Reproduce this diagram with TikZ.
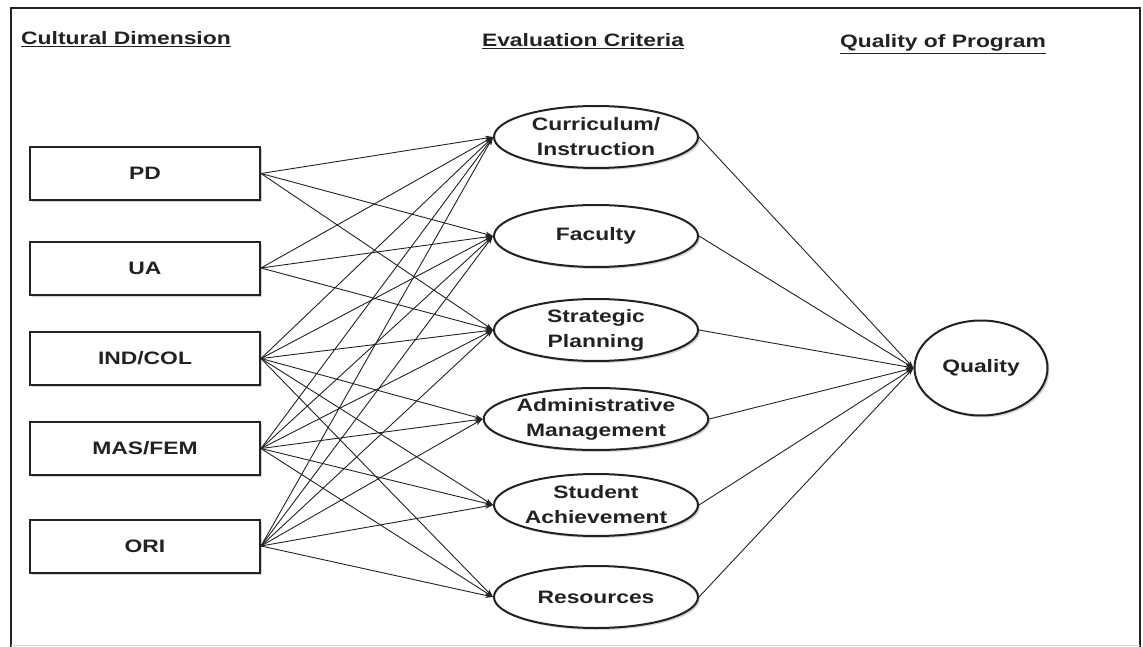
\documentclass[tikz,border=0pt]{standalone}
\usepackage{fontspec}
\setmainfont{Liberation Sans}[FakeStretch=1.27]
\usetikzlibrary{arrows.meta,shapes.geometric,shadows}
\definecolor{ink}{HTML}{222222}
\begin{document}
\begin{tikzpicture}[x=1pt,y=-1pt,
  every node/.style={font=\fontsize{18}{25}\selectfont\bfseries, text=ink},
  dimbox/.style={draw=ink, line width=2pt, fill=white, minimum width=230pt, minimum height=53pt, inner sep=0pt,
    drop shadow={shadow xshift=2pt, shadow yshift=-2pt, opacity=0.35, fill=gray}},
  critell/.style={ellipse, draw=ink, line width=2pt, fill=white, minimum width=204pt, minimum height=62pt, inner sep=0pt, align=center,
    drop shadow={shadow xshift=2pt, shadow yshift=-2pt, opacity=0.35, fill=gray}},
  qualell/.style={ellipse, draw=ink, line width=2pt, fill=white, minimum width=133pt, minimum height=95pt, inner sep=0pt,
    drop shadow={shadow xshift=2pt, shadow yshift=-2pt, opacity=0.35, fill=gray}},
  link/.style={draw=ink, line width=0.9pt, -{Stealth[length=8pt,width=5pt]}},
  header/.style={anchor=base}
]
\useasboundingbox (0,0) rectangle (1143,647);
% frame
\draw[ink, line width=2pt] (11,647) -- (11,8) -- (1140,8) -- (1140,647);
\draw[gray!30, line width=1pt] (11,645) -- (1140,645);

% headers
\node[header] (h1) at (126,45) {\underline{Cultural Dimension}};
\node[header] (h2) at (583,47) {\underline{Evaluation Criteria}};
\node[header] (h3) at (943,48) {\underline{Quality of Program}};

% left boxes
\node[dimbox] (pd) at (145,173.5) {PD};
\node[dimbox] (ua) at (145,268) {UA};
\node[dimbox] (ind) at (145,358.5) {IND/COL};
\node[dimbox] (mas) at (145,448.5) {MAS/FEM};
\node[dimbox] (ori) at (145,546) {ORI};

% criteria
\node[critell] (cur) at (596,137) {Curriculum/\\Instruction};
\node[critell] (fac) at (596,236) {Faculty};
\node[critell] (str) at (596,330) {Strategic\\Planning};
\node[critell] (adm) at (596,419) {Administrative\\Management};
\node[critell] (stu) at (596,505) {Student\\Achievement};
\node[critell] (res) at (596,597) {Resources};

% quality
\node[qualell] (q) at (981,368) {Quality};

% connectors
\foreach \s in {pd,ua}{
  \foreach \t in {cur,fac,str}{
    \draw[link] (\s.east) -- (\t.west);
  }
}
\foreach \s in {ind,mas,ori}{
  \foreach \t in {cur,fac,str,adm,stu,res}{
    \draw[link] (\s.east) -- (\t.west);
  }
}
\foreach \t in {cur,fac,str,adm,stu,res}{
  \draw[link] (\t.east) -- (q.west);
}
\end{tikzpicture}
\end{document}
